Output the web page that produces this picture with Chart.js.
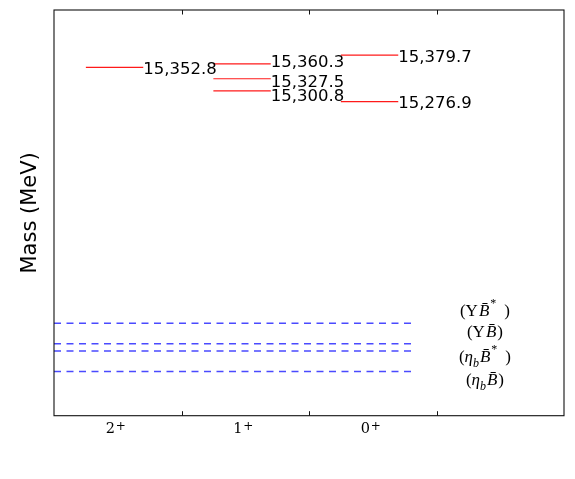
<!DOCTYPE html>
<html><head><meta charset="utf-8">
<script src="https://cdn.jsdelivr.net/npm/chart.js@4"></script>
<style>html,body{margin:0;padding:0;background:#fff}#wrap{width:575px;height:479px}</style>
</head><body><div id="wrap"><canvas id="c" width="575" height="479"></canvas></div>
<script>
// ---- data ----
const jpLabels = ['2', '1', '0'];                 // J^P (all parity +)
const parity = '+';
const levelState = [0, 1, 1, 1, 2, 2];            // index into jpLabels
const levelMass = [15352.8, 15360.3, 15327.5, 15300.8, 15379.7, 15276.9];
const thresholdNames = ['ΥB̄*', 'ΥB̄', 'η_bB̄*', 'η_bB̄'];
const thresholdMass = [14785.0, 14739.6, 14723.7, 14678.3];
const yMin = 14580, yMax = 15480;

// ---- layout / style ----
const LEVEL_X0 = 0.25, LEVEL_X1 = 0.7, THRESH_X1 = 2.8, THRESH_LABEL_X = 3.38;
const levelLabelNudge = [0.5, -3.3, 2.5, 4.6, 0.6, 0.9];   // px
const threshLabelNudge = [-11.7, -11.3, 6.5, 9];          // px
const TICK_FONT = 14.5, TICK_SHIFT = -7.5;

const datasets = [];
levelMass.forEach((m, i) => {
  const s = levelState[i];
  datasets.push({type: 'line', data: [{x: s + LEVEL_X0, y: m}, {x: s + LEVEL_X1, y: m}],
    borderColor: '#ff1a1a', borderWidth: 1.2, pointRadius: 0, fill: false});
});
thresholdMass.forEach((m) => {
  datasets.push({type: 'line', data: [{x: 0, y: m}, {x: THRESH_X1, y: m}],
    borderColor: '#4a4aff', borderWidth: 1.5, borderDash: [7, 5.5], pointRadius: 0, fill: false});
});

const fmt = v => v.toLocaleString('en-US', {minimumFractionDigits: 1, maximumFractionDigits: 1});

function mathSegments(name) {
  const segs = [{t: '(', it: false, sz: 17}];
  const star = name.endsWith('*');
  const base = star ? name.slice(0, -1) : name;
  if (base.startsWith('Υ')) segs.push({t: 'Υ', it: false, sz: 17});
  else { segs.push({t: 'η', it: true, sz: 17}); segs.push({t: 'b', it: true, sz: 12, dy: 5}); }
  segs.push({t: 'B\u0304', it: true, sz: 17, gap: 1});
  if (star) { segs.push({t: '*', it: false, sz: 12, dy: -9, gap: 1}); segs.push({t: ')', it: false, sz: 17, gap: 8}); }
  else segs.push({t: ')', it: false, sz: 17, gap: 1});
  return segs;
}

const overlay = {
  id: 'overlay',
  afterDatasetsDraw(chart) {
    const {ctx, chartArea: a, scales: {x, y}} = chart;
    ctx.save();
    // frame
    ctx.strokeStyle = '#111'; ctx.lineWidth = 1.1;
    ctx.strokeRect(a.left, a.top, a.right - a.left, a.bottom - a.top);
    // inward tick marks at category boundaries
    ctx.lineWidth = 1;
    for (let v = 1; v < 4; v++) {
      const px = Math.round(x.getPixelForValue(v)) + 0.5;
      ctx.beginPath(); ctx.moveTo(px, a.bottom); ctx.lineTo(px, a.bottom - 4.5); ctx.stroke();
      ctx.beginPath(); ctx.moveTo(px, a.top); ctx.lineTo(px, a.top + 4.5); ctx.stroke();
    }
    ctx.fillStyle = '#000';
    // parity superscripts on the x tick labels
    ctx.textAlign = 'left'; ctx.textBaseline = 'alphabetic';
    x.ticks.forEach((t, i) => {
      ctx.font = TICK_FONT + 'px "DejaVu Serif"';
      const dw = ctx.measureText(jpLabels[i]).width;
      const px = x.getPixelForValue(t.value) + TICK_SHIFT + dw / 2 + 0.8;
      ctx.font = '12px "DejaVu Serif"';
      ctx.fillText(parity, px, 429.5);
    });
    // level labels
    ctx.font = '16.5px "DejaVu Sans"';
    levelMass.forEach((m, i) => {
      const px = x.getPixelForValue(levelState[i] + LEVEL_X1);
      const py = y.getPixelForValue(m) + levelLabelNudge[i];
      ctx.fillText(fmt(m), px, py + 0.3645 * 16.5);
    });
    // threshold labels
    thresholdNames.forEach((n, i) => {
      const segs = mathSegments(n);
      let w = 0;
      segs.forEach(s => {
        ctx.font = (s.it ? 'italic ' : '') + s.sz + 'px "Liberation Serif"';
        s.w = ctx.measureText(s.t).width; w += s.w + (s.gap || 0);
      });
      const cx = x.getPixelForValue(THRESH_LABEL_X);
      const cy = y.getPixelForValue(thresholdMass[i]) + threshLabelNudge[i];
      let px = cx - w / 2; const base = cy + 4.3;
      segs.forEach(s => {
        px += (s.gap || 0);
        ctx.font = (s.it ? 'italic ' : '') + s.sz + 'px "Liberation Serif"';
        ctx.fillText(s.t, px, base + (s.dy || 0));
        px += s.w;
      });
    });
    ctx.restore();
  }
};

new Chart(document.getElementById('c'), {
  type: 'line',
  data: {datasets},
  options: {
    responsive: false, animation: false,
    layout: {padding: {left: 18, right: 11, top: 10, bottom: 0}},
    plugins: {legend: {display: false}, tooltip: {enabled: false}},
    scales: {
      x: {
        type: 'linear', min: 0, max: 4,
        afterBuildTicks: s => { s.ticks = [0.5, 1.5, 2.5].map(v => ({value: v})); },
        ticks: {callback: (v, i) => jpLabels[i], color: '#000', padding: 4.5, labelOffset: TICK_SHIFT,
          maxRotation: 0, autoSkip: false, font: {family: '"DejaVu Serif"', size: TICK_FONT}},
        grid: {display: false, drawTicks: false}, border: {display: false},
        afterFit: s => { s.height = 63.3; }
      },
      y: {
        min: yMin, max: yMax,
        ticks: {display: false}, grid: {display: false, drawTicks: false}, border: {display: false},
        title: {display: true, text: 'Mass (MeV)', color: '#000', padding: 0,
          font: {family: '"DejaVu Sans"', size: 21}},
        afterFit: s => { s.width = 36; }
      }
    }
  },
  plugins: [overlay]
});
</script></body></html>
